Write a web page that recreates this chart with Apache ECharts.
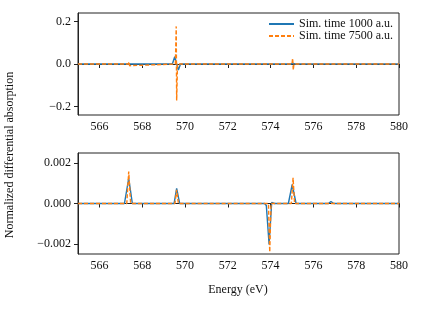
<!DOCTYPE html>
<html>
<head>
<meta charset="utf-8">
<script src="https://cdn.jsdelivr.net/npm/echarts@6/dist/echarts.min.js"></script>
<style>html,body{margin:0;padding:0;background:#fff}#c{width:421px;height:310px}</style>
</head>
<body>
<div id="c"></div>
<script>
// ---- data ----
const seriesNames = ["Sim. time 1000 a.u.", "Sim. time 7500 a.u."];
const xTicks = [566, 568, 570, 572, 574, 576, 578, 580];
const topYTicks = [-0.2, 0.0, 0.2];
const topYTickLabels = ["\u22120.2", "0.0", "0.2"];
const botYTicks = [-0.002, 0.0, 0.002];
const botYTickLabels = ["\u22120.002", "0.000", "0.002"];

// top panel, sim time 1000
const blueTopE = [565, 569.41, 569.52, 569.69, 569.79, 574.95, 575.05, 575.15, 580];
const blueTopY = [0, 0, 0.034, -0.028, 0, 0, 0.003, 0, 0];
// top panel, sim time 7500
const orangeTopE = [565, 567.35, 567.38, 567.41, 567.44, 569.55, 569.59, 569.61, 569.65, 573.93, 573.96, 573.99, 575.0, 575.03, 575.06, 575.09, 580];
const orangeTopY = [0, 0, 0.01, -0.008, 0, 0, 0.177, -0.172, 0, 0, -0.003, 0, 0, 0.027, -0.028, 0, 0];
// bottom panel, sim time 1000
const blueBotE = [565, 567.17, 567.37, 567.54, 569.49, 569.61, 569.75, 573.72, 573.8, 573.93, 574.05, 574.1, 574.18, 574.83, 575.01, 575.19, 576.7, 576.82, 576.95, 580];
const blueBotY = [0, 0, 0.00125, 0, 0, 0.00075, 0, 0, -0.0001, -0.00203, 0.00005, 0.00006, 0, 0, 0.00094, 0, 0, 0.0001, 0, 0];
// bottom panel, sim time 7500
const orangeBotE = [565, 567.28, 567.37, 567.46, 569.53, 569.61, 569.69, 573.9, 573.96, 574.02, 574.97, 575.05, 575.12, 576.75, 576.82, 576.9, 580];
const orangeBotY = [0, 0, 0.00158, 0, 0, 0.00068, 0, 0, -0.0024, 0, 0, 0.00127, 0, 0, 0.00007, 0, 0];

// ---- chart ----
const zip = (e, y) => e.map((v, i) => [v, y[i]]);
const FONT = "'Liberation Serif', 'DejaVu Serif', serif";
const BLUE = '#1f77b4', ORANGE = '#ff7f0e';

function xAxis(gi) {
  return {
    type: 'value', gridIndex: gi, min: 565, max: 580,
    axisLine: { show: true, lineStyle: { color: '#222', width: 1 } },
    axisTick: { show: true, inside: false, length: 4, customValues: xTicks, lineStyle: { color: '#222' } },
    axisLabel: { show: true, margin: 6, customValues: xTicks, color: '#111', fontFamily: FONT, fontSize: 12 },
    splitLine: { show: false }
  };
}
function yAxis(gi, lim, ticks, labels) {
  return {
    type: 'value', gridIndex: gi, min: -lim, max: lim,
    axisLine: { show: true, lineStyle: { color: '#222', width: 1 } },
    axisTick: { show: true, inside: false, length: 4, customValues: ticks, lineStyle: { color: '#222' } },
    axisLabel: {
      show: true, margin: 7, customValues: ticks, color: '#111', fontFamily: FONT, fontSize: 12,
      formatter: v => { let k = 0, d = Infinity; ticks.forEach((t, i) => { if (Math.abs(t - v) < d) { d = Math.abs(t - v); k = i; } }); return labels[k]; }
    },
    splitLine: { show: false }
  };
}
function line(name, data, xi, color, dashed) {
  return {
    type: 'line', name, data, xAxisIndex: xi, yAxisIndex: xi,
    symbol: 'none', showSymbol: false, smooth: false, silent: true,
    lineStyle: { color, width: 1.4, type: dashed ? [4, 2] : 'solid' },
    itemStyle: { color }
  };
}

const chart = echarts.init(document.getElementById('c'), null, { renderer: 'canvas' });
chart.setOption({
  animation: false,
  backgroundColor: '#fff',
  grid: [
    { left: 78, right: 22, top: 13, height: 102, show: true, borderColor: '#222', borderWidth: 1, backgroundColor: 'transparent' },
    { left: 78, right: 22, top: 153, height: 101, show: true, borderColor: '#222', borderWidth: 1, backgroundColor: 'transparent' }
  ],
  xAxis: [xAxis(0), xAxis(1)],
  yAxis: [yAxis(0, 0.24, topYTicks, topYTickLabels), yAxis(1, 0.0025, botYTicks, botYTickLabels)],
  legend: {
    data: seriesNames, orient: 'vertical', right: 28, top: 17, padding: 0,
    itemWidth: 25, itemHeight: 10, itemGap: -2,
    itemStyle: { opacity: 0 },
    textStyle: { fontFamily: FONT, fontSize: 12, color: '#111', lineHeight: 14 }
  },
  series: [
    line(seriesNames[0], zip(blueTopE, blueTopY), 0, BLUE, false),
    line(seriesNames[1], zip(orangeTopE, orangeTopY), 0, ORANGE, true),
    line(seriesNames[0], zip(blueBotE, blueBotY), 1, BLUE, false),
    line(seriesNames[1], zip(orangeBotE, orangeBotY), 1, ORANGE, true)
  ],
  graphic: [
    { type: 'text', x: 10, y: 155, rotation: Math.PI / 2, style: { text: 'Normalized differential absorption', fontFamily: FONT, fontSize: 12, fill: '#111', align: 'center', verticalAlign: 'middle' } },
    { type: 'text', x: 238, y: 290, style: { text: 'Energy (eV)', fontFamily: FONT, fontSize: 12, fill: '#111', align: 'center', verticalAlign: 'middle' } }
  ]
});
</script>
</body>
</html>
